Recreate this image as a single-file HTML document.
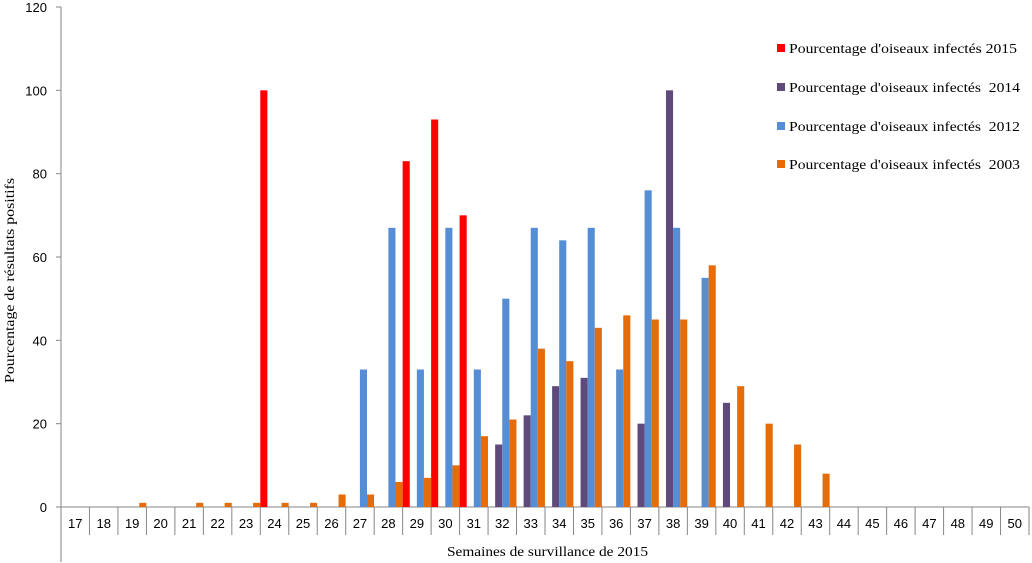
<!DOCTYPE html>
<html><head><meta charset="utf-8"><style>
body{margin:0;background:#fff}
svg{display:block}
.t{font-family:"Liberation Sans",sans-serif;font-size:13px;fill:#000}
.s{font-family:"Liberation Serif",serif;font-size:14px;fill:#000;white-space:pre}
</style></head><body>
<svg id="c" width="1032" height="563"></svg>
<script>
const categories=[17,18,19,20,21,22,23,24,25,26,27,28,29,30,31,32,33,34,35,36,37,38,39,40,41,42,43,44,45,46,47,48,49,50];
const s2015={24:100,29:83,30:93,31:70};
const s2014={32:15,33:22,34:29,35:31,37:20,38:100,40:25};
const s2012={27:33,28:67,29:33,30:67,31:33,32:50,33:67,34:64,35:67,36:33,37:76,38:67,39:55};
const s2003={19:1,21:1,22:1,23:1,24:1,25:1,26:3,27:3,28:6,29:7,30:10,31:17,32:21,33:38,34:35,35:43,36:46,37:45,38:45,39:58,40:29,41:20,42:15,43:8};
const yTicks=[0,20,40,60,80,100,120];
const seriesNames=["Pourcentage d'oiseaux infectés 2015","Pourcentage d'oiseaux infectés  2014","Pourcentage d'oiseaux infectés  2012","Pourcentage d'oiseaux infectés  2003"];
const seriesData=[s2015,s2014,s2012,s2003];
const colors=["#ff0000","#604a7b","#558ed5","#e46c0a"];
const svg=document.getElementById('c');
const NS='http://www.w3.org/2000/svg';
const X0=61,X1=1029,Y0=507,Y1=7,cw=(X1-X0)/categories.length,bw=7.1;
const y=v=>Y0-(v/120)*(Y0-Y1);
function mk(tag,a,p){const e=document.createElementNS(NS,tag);for(const k in a)e.setAttribute(k,a[k]);(p||svg).appendChild(e);return e;}
let e=mk('line',{x1:X0,y1:Y1,x2:X0,y2:562,stroke:'#868686'});


yTicks.forEach(v=>{
 let l=mk('line',{x1:X0-5,y1:y(v),x2:X0,y2:y(v),stroke:'#868686'});
 
 
 let t=mk('text',{x:X0-14,y:y(v)+5,'text-anchor':'end',class:'t'});t.textContent=v;
 
 
});
e=mk('line',{x1:X0,y1:Y0,x2:X1,y2:Y0,stroke:'#868686'});


categories.forEach((c,i)=>{
 const xs=X0+i*cw;
 if(i>0){let l=mk('line',{x1:xs,y1:Y0,x2:xs,y2:535,stroke:'#868686'});
 
 }
 let t=mk('text',{x:xs+cw/2,y:528,'text-anchor':'middle',class:'t'});t.textContent=c;
 
 
 seriesData.forEach((d,k)=>{
  if(d[c]===undefined)return;
  let r=mk('rect',{x:xs+k*bw,y:y(d[c]),width:bw,height:Y0-y(d[c]),fill:colors[k]});
  
  
 });
});
let l=mk('line',{x1:X1,y1:Y0,x2:X1,y2:535,stroke:'#868686'});


const ly=[51,90,129,167];
const lw=[228,231,231,231];
seriesNames.forEach((n,k)=>{
 let g=mk('g',{});
 
 
 mk('rect',{x:777,y:ly[k]-7,width:8,height:8,fill:colors[k]},g);
 let t=mk('text',{x:789,y:ly[k]+2,class:'s',textLength:lw[k],lengthAdjust:'spacingAndGlyphs'},g);t.textContent=n;
});
let t=mk('text',{x:447,y:556,class:'s',textLength:201,lengthAdjust:'spacingAndGlyphs'});t.textContent='Semaines de survillance de 2015';


t=mk('text',{x:0,y:0,class:'s',textLength:205,lengthAdjust:'spacingAndGlyphs',transform:'translate(14,383) rotate(-90)'});t.textContent='Pourcentage de résultats positifs';


</script>
</body></html>
